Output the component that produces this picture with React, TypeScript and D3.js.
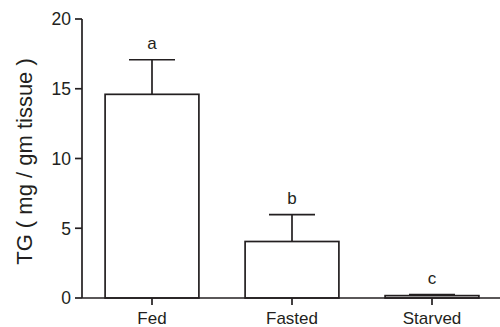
import React from "react";
import * as d3 from "d3";

const categories = ["Fed", "Fasted", "Starved"];
const means = [14.6, 4.05, 0.17];
const sems = [2.48, 1.92, 0.07];
const letters = ["a", "b", "c"];
const yTicks = [0, 5, 10, 15, 20];

const W = 500;
const H = 327;
const font = "'Liberation Sans', Arial, sans-serif";
const ink = "#231f20";

export default function App() {
  const x = d3
    .scaleBand<string>()
    .domain(categories)
    .range([82, 502])
    .paddingInner(0.33)
    .paddingOuter(0.165);
  const y = d3.scaleLinear().domain([0, 20]).range([298, 19]);
  const capHalf = 23;

  return (
    <svg
      width={W}
      height={H}
      style={{ position: "fixed", left: 0, top: 0, background: "#fff" }}
      fontFamily={font}
    >
      <rect x={0} y={0} width={W} height={H} fill="#fff" />
      {categories.map((c, i) => {
        const x0 = x(c)!;
        const cx = x0 + x.bandwidth() / 2;
        const top = y(means[i]);
        const errTop = y(means[i] + sems[i]);
        return (
          <g key={c}>
            <line x1={cx} x2={cx} y1={top} y2={errTop} stroke={ink} strokeWidth={1.7} />
            <line
              x1={cx - capHalf}
              x2={cx + capHalf}
              y1={errTop}
              y2={errTop}
              stroke={ink}
              strokeWidth={1.7}
            />
            <rect
              x={x0}
              y={top}
              width={x.bandwidth()}
              height={y(0) - top}
              fill="#fff"
              stroke={ink}
              strokeWidth={1.7}
            />
            <text x={cx} y={errTop - 11} textAnchor="middle" fontSize={17} fill={ink}>
              {letters[i]}
            </text>
            <line x1={cx} x2={cx} y1={y(0)} y2={y(0) + 7} stroke={ink} strokeWidth={1.7} />
            <text x={cx} y={323.5} textAnchor="middle" fontSize={17} fill={ink}>
              {c}
            </text>
          </g>
        );
      })}
      <line x1={82} x2={500} y1={y(0)} y2={y(0)} stroke={ink} strokeWidth={1.7} />
      <line x1={82} x2={82} y1={y(20)} y2={y(0)} stroke={ink} strokeWidth={1.7} />
      {yTicks.map((t) => (
        <g key={t}>
          <line x1={75} x2={82} y1={y(t)} y2={y(t)} stroke={ink} strokeWidth={1.7} />
          <text x={71} y={y(t)} dy="0.36em" textAnchor="end" fontSize={17.5} fill={ink}>
            {t}
          </text>
        </g>
      ))}
      <text
        transform={`translate(32, ${(57 + 266) / 2}) rotate(-90)`}
        textAnchor="middle"
        fontSize={22}
        fill={ink}
      >
        TG ( mg / gm tissue )
      </text>
    </svg>
  );
}
